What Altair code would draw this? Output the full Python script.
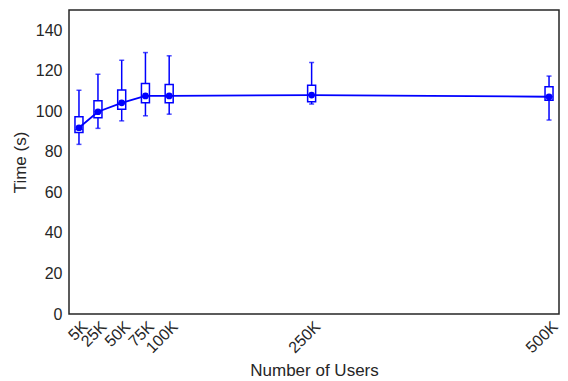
import altair as alt
import pandas as pd

users = [5000, 25000, 50000, 75000, 100000, 250000, 500000]
labels = ["5K", "25K", "50K", "75K", "100K", "250K", "500K"]
whisker_low = [83.7, 91.6, 95.3, 97.8, 98.6, 103.6, 95.7]
q1 = [89.6, 96.8, 101.0, 104.2, 104.2, 104.7, 105.5]
median = [91.0, 99.8, 104.2, 107.6, 107.6, 108.0, 107.2]
q3 = [97.3, 105.2, 110.5, 113.7, 113.2, 112.9, 112.1]
whisker_high = [110.4, 118.3, 125.2, 129.0, 127.4, 124.1, 117.4]
mean = [91.9, 99.8, 104.2, 107.6, 107.6, 108.0, 107.2]

df = pd.DataFrame({
    "users": users, "label": labels, "lo": whisker_low, "q1": q1,
    "med": median, "q3": q3, "hi": whisker_high, "mean": mean,
})

blue = "#0000ff"
label_expr = "datum.value >= 1000 ? format(datum.value/1000, 'd') + 'K' : ''"

x = alt.X("users:Q",
          scale=alt.Scale(domain=[-5500, 510500], nice=False, zero=False, padding=0),
          axis=alt.Axis(values=users, labelExpr=label_expr, labelAngle=-45,
                        labelAlign="right", labelBaseline="top", labelPadding=4,
                        labelOverlap=False,
                        title="Number of Users", titlePadding=7))
ysc = alt.Scale(domain=[0, 150], nice=False, padding=0)
yax = alt.Axis(values=[0, 20, 40, 60, 80, 100, 120, 140], title="Time (s)", titlePadding=6)

base = alt.Chart(df)

whisk = base.mark_rule(color=blue, strokeWidth=1.5).encode(
    x=x, y=alt.Y("lo:Q", scale=ysc, axis=yax), y2="hi:Q")
caps_lo = base.mark_tick(color=blue, orient="horizontal", size=5, thickness=1.5).encode(
    x="users:Q", y="lo:Q")
caps_hi = base.mark_tick(color=blue, orient="horizontal", size=5, thickness=1.5).encode(
    x="users:Q", y="hi:Q")
box = base.mark_bar(color="white", stroke=blue, strokeWidth=1.5, size=8).encode(
    x="users:Q", y="q1:Q", y2="q3:Q")
med = base.mark_tick(color=blue, orient="horizontal", size=8, thickness=1.2).encode(
    x="users:Q", y="med:Q")
line = base.mark_line(color=blue, strokeWidth=1.8).encode(x="users:Q", y="mean:Q")
dots = base.mark_circle(color=blue, opacity=1, size=45).encode(x="users:Q", y="mean:Q")

chart = alt.layer(whisk, caps_lo, caps_hi, box, med, line, dots).properties(
    width=490, height=304,
    autosize=alt.AutoSizeParams(type="none"),
    padding={"left": 61, "top": 2, "right": 1, "bottom": 70},
).configure_view(
    stroke="#262626", strokeWidth=1.5
).configure_axis(
    grid=False, domain=False, ticks=False,
    labelFont="Liberation Sans", titleFont="Liberation Sans",
    labelFontSize=16, titleFontSize=17, labelColor="#262626", titleColor="#262626",
    titleFontWeight="normal", labelPadding=7,
)

chart.save("out.html", embed_options={"renderer": "svg", "actions": False})
